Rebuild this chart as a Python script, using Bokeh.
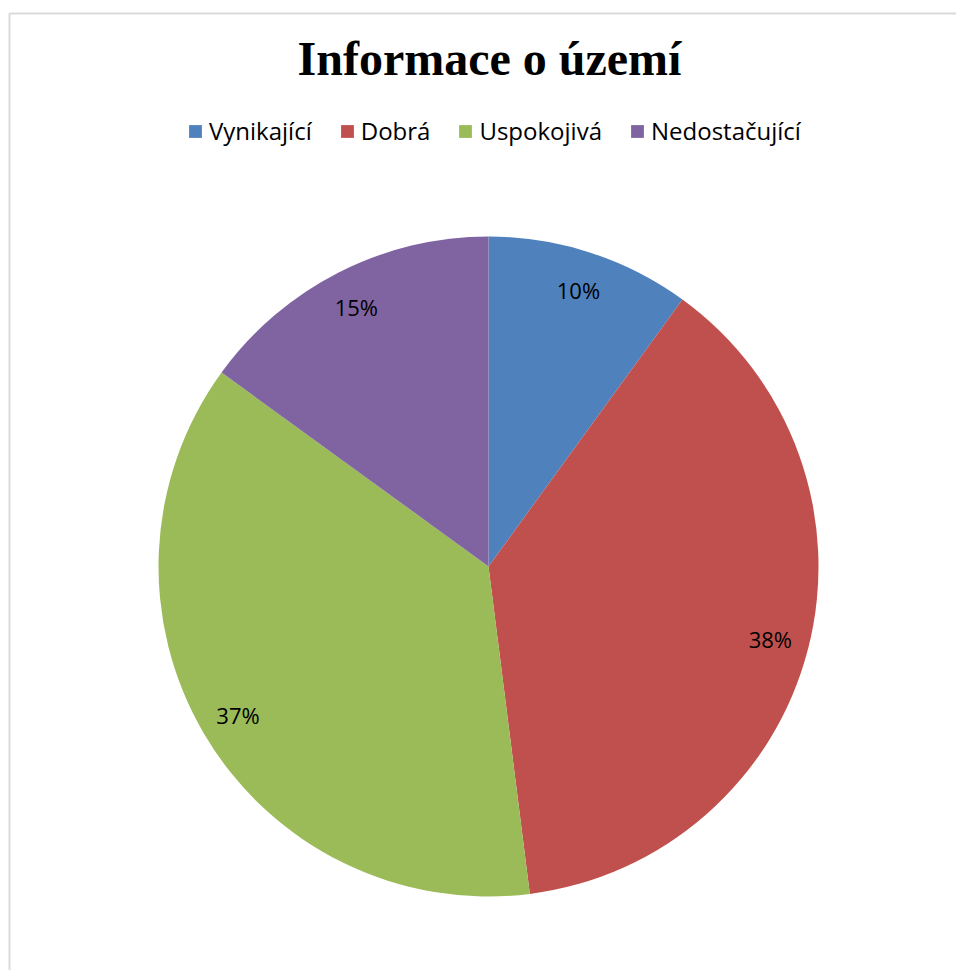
import numpy as np
from bokeh.plotting import figure
from bokeh.models import Range1d, Legend, LegendItem, Label, BoxAnnotation, ColumnDataSource
from bokeh.core.properties import value
from bokeh.embed import file_html
from bokeh.resources import INLINE

title_text = "Informace o území"
categories = ["Vynikající", "Dobrá", "Uspokojivá", "Nedostačující"]
values = [10, 38, 37, 15]
colors = ["#4F81BD", "#C0504D", "#9BBB59", "#8064A2"]

W, H = 956, 970
cx, cy, R = 488, 404, 330
label_r = 291

vals = np.array(values, dtype=float)
frac = vals / vals.sum()
cum = np.concatenate([[0], np.cumsum(frac)])
# clockwise from 12 o'clock
start = np.pi / 2 - cum[1:] * 2 * np.pi
end = np.pi / 2 - cum[:-1] * 2 * np.pi
mid = (start + end) / 2

src = ColumnDataSource(dict(
    cat=categories, start=start, end=end, color=colors,
    lx=cx + label_r * np.cos(mid), ly=cy + label_r * np.sin(mid),
    lab=[f"{v:.0f}%" for v in frac * 100],
))

p = figure(width=W, height=H, output_backend="svg", toolbar_location=None,
           x_range=Range1d(0, W), y_range=Range1d(0, H), min_border=0)
p.axis.visible = False
p.grid.visible = False
p.outline_line_color = None
p.background_fill_color = "white"
p.border_fill_color = "white"

p.add_layout(BoxAnnotation(left=9, top=H - 13, right=W + 100, bottom=-100,
                           fill_color=None, line_color="#858585", line_width=2))

r = p.wedge(x=cx, y=cy, radius=R, start_angle="start", end_angle="end",
            fill_color="color", line_color=None, source=src)

p.text(x="lx", y="ly", text="lab", source=src, text_align="center",
       text_baseline="middle", text_font=value("Open Sans"),
       text_font_size="22px", text_color="black")

p.add_layout(Label(x=489, y=H - 58, text=title_text, text_align="center",
                   text_baseline="alphabetic", text_font="Liberation Serif",
                   text_font_style="bold", text_font_size="48px", text_color="black"))

items = [LegendItem(label=c, renderers=[r], index=i) for i, c in enumerate(categories)]
legend = Legend(items=items, orientation="horizontal", location=(187, H - 147),
                glyph_width=16, glyph_height=16, label_standoff=6, spacing=27,
                label_text_font="Open Sans", label_text_font_size="24px",
                label_text_color="black",
                border_line_color=None, background_fill_alpha=0, padding=0, margin=0)
p.add_layout(legend, "center")

open("out.html", "w").write(file_html(p, INLINE))
